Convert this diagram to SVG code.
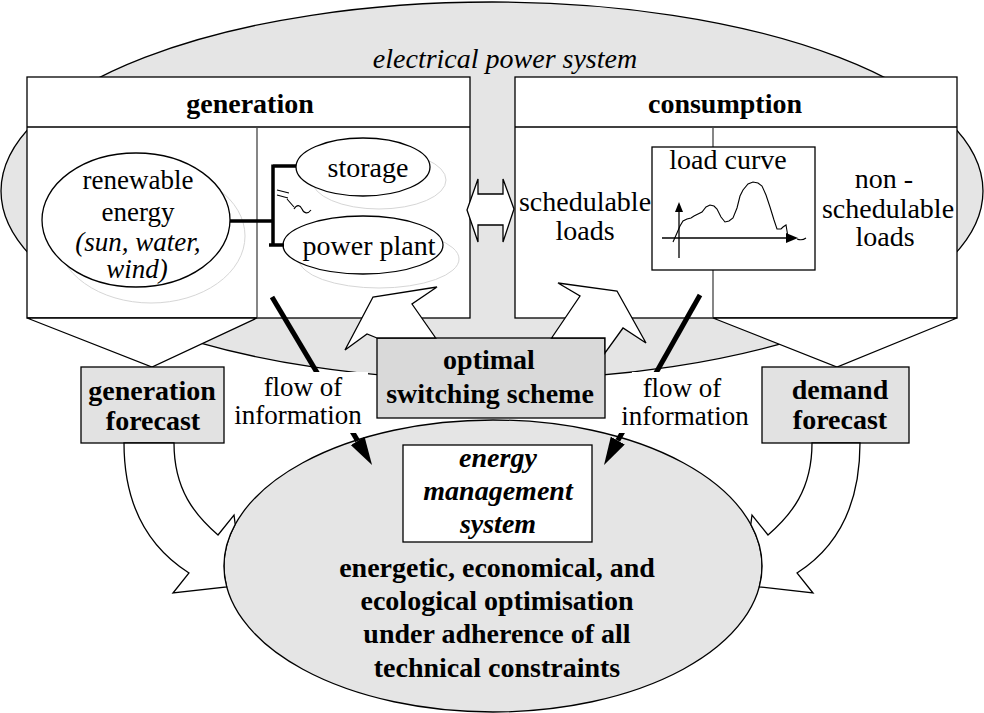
<svg xmlns="http://www.w3.org/2000/svg" width="984" height="713" viewBox="0 0 984 713" font-family="'Liberation Serif', Tinos, 'DejaVu Serif', serif">
<defs>
<style>
text{font-family:'Liberation Serif', Tinos, 'Times New Roman', 'DejaVu Serif', serif}
.t{font-size:28px;fill:#000;text-anchor:middle}
.s{font-size:27px}
.b{font-weight:bold}
.i{font-style:italic}
.ln{fill:none;stroke:#000;stroke-width:1.3}
.dv{fill:none;stroke:#444;stroke-width:1.3}
.wb{fill:#fff;stroke:#000;stroke-width:1.3}
.gb{fill:#e2e2e2;stroke:#000;stroke-width:1.3}
.sh{fill:none;stroke:#d6d6d6;stroke-width:1}
.thick{fill:none;stroke:#000;stroke-width:5}
.br{fill:none;stroke:#000;stroke-width:3.5}
.sym{fill:none;stroke:#000;stroke-width:1.1}
.bg{fill:#fff;stroke:none}
</style>
<marker id="ah" viewBox="0 -8 28 16" refX="0" refY="0" markerWidth="28" markerHeight="16" markerUnits="userSpaceOnUse" orient="auto"><path d="M0,-8 L28,0 L0,8 Z" fill="#000"/></marker>
</defs>

<g id="power-system">
<ellipse cx="492" cy="191" rx="491" ry="189" fill="#e5e5e5" stroke="#000" stroke-width="1.3"/>
<text class="t i" x="505" y="68">electrical power system</text>
</g>

<g id="generation">
<rect x="27" y="77" width="443" height="241" class="wb"/>
<line x1="27" y1="127" x2="470" y2="127" class="ln"/>
<line x1="257" y1="127" x2="257" y2="318" class="dv"/>
<polygon points="27,318 257,318 152,367" class="wb"/>
<text class="t b" x="250" y="113">generation</text>
<ellipse cx="151" cy="236" rx="94" ry="67" class="sh"/>
<ellipse cx="379" cy="180" rx="67" ry="29" class="sh"/>
<ellipse cx="379" cy="259" rx="80" ry="29" class="sh"/>
<g id="renewable-energy">
<ellipse cx="136" cy="220" rx="94" ry="67" class="wb"/>
<text class="t s" x="138" y="189">renewable</text>
<text class="t s" x="138" y="221">energy</text>
<text class="t s i" x="138" y="251">(sun, water,</text>
<text class="t s i" x="137" y="278">wind)</text>
</g>
<g id="storage">
<ellipse cx="363" cy="167" rx="67" ry="29" class="wb"/>
<text class="t" x="368" y="177">storage</text>
</g>
<g id="power-plant">
<ellipse cx="363" cy="245" rx="80" ry="29" class="wb"/>
<text class="t" x="369" y="255">power plant</text>
</g>
<path d="M230,221 H273 M273,164.5 V246.5 M273,166 H296 M269,245 H284" class="br"/>
<path d="M277,190 L289,193 M277,195 L288,198 M287,199 L294,207 M294,209 C297,204 300,205 302,209 C304,214 308,214 311,210" class="sym"/>
</g>

<g id="consumption">
<rect x="515" y="77" width="442" height="241" class="wb"/>
<line x1="515" y1="127" x2="957" y2="127" class="ln"/>
<line x1="713" y1="127" x2="713" y2="147" class="dv"/>
<line x1="713" y1="270" x2="713" y2="318" class="dv"/>
<polygon points="713,318 957,318 837,367" class="wb"/>
<text class="t b" x="725" y="113">consumption</text>
<text class="t" x="585" y="211">schedulable</text>
<text class="t" x="585" y="240">loads</text>
<text class="t" x="884" y="188">non -</text>
<text class="t" x="888" y="218">schedulable</text>
<text class="t" x="885" y="246">loads</text>
<g id="load-curve">
<rect x="652" y="147" width="163" height="123" class="wb"/>
<text class="t" x="728" y="169">load curve</text>
<line x1="679" y1="258" x2="679" y2="210" class="ln"/>
<polygon points="679,202 675,212 683,212" fill="#000"/>
<line x1="662" y1="238" x2="787" y2="238" class="ln"/>
<polygon points="798,238 786,233 786,243" fill="#000"/>
<path d="M797,239 q5,2 9,-1" class="sym"/>
<path d="M673,242 L677,233 L680,226 L683,221 L687,219 L691,218 L694,216 L698,214 L702,212 L706,207 L710,205 L714,206 L717,209 L721,217 L725,222 L729,221 L733,218 L737,208 L740,196 L743,190 L748,184 L753,182 L758,183 L762,186 L766,195 L770,207 L774,220 L777,229 L781,229 L783,227 L786,225 L787,231 L788,237" class="sym"/>
</g>
</g>

<g id="generation-forecast">
<rect x="81" y="367" width="143" height="76" class="gb"/>
<text class="t b" x="152" y="400">generation</text>
<text class="t b" x="153" y="430">forecast</text>
</g>

<g id="demand-forecast">
<rect x="762" y="367" width="147" height="76" class="gb"/>
<text class="t b" x="840" y="399">demand</text>
<text class="t b" x="840" y="429">forecast</text>
</g>

<g id="energy-management-system">
<ellipse cx="493" cy="566" rx="269" ry="146" fill="#e5e5e5" stroke="#000" stroke-width="1.3"/>
<rect x="403" y="445" width="189" height="97" class="wb"/>
<text class="t b i" x="498" y="467">energy</text>
<text class="t b i" x="498" y="500">management</text>
<text class="t b i" x="498" y="533">system</text>
<text class="t b" x="497" y="577">energetic, economical, and</text>
<text class="t b" x="497" y="610">ecological optimisation</text>
<text class="t b" x="497" y="643">under adherence of all</text>
<text class="t b" x="497" y="677">technical constraints</text>
</g>

<g id="optimal-switching-scheme">
<rect x="377" y="338" width="228" height="80" fill="#d9d9d9" stroke="#000" stroke-width="1.3"/>
<text class="t b" x="489" y="369">optimal</text>
<text class="t b" x="490" y="403">switching scheme</text>
</g>

<g id="connectors">
<polygon points="467,210 478,179 478,194 503,194 503,179 514,209 503,242 503,225 478,225 478,242" class="wb"/>
<polygon points="377,338 367,334 345,350 373,297 437,287 412,304 435.7,338" class="wb"/>
<polygon points="551.6,338 580,296 558,283 617,291 646,343 623,328 605,353 605,338" class="wb"/>
<path d="M124,443 C124,500 145,545 189,573 L173,593 L226.7,586.9 A269,146 0 0 1 235.2,524.4 L234,515 L218,535 C195,515 174,490 174,443 Z" class="wb"/>
<path d="M860,443 C860,500 841,545 797,573 L813,593 L759.3,586.9 A269,146 0 0 0 750.8,524.4 L752,515 L768,535 C791,515 812,490 812,443 Z" class="wb"/>
<line x1="272" y1="297" x2="357.7" y2="440.9" class="thick" marker-end="url(#ah)"/>
<line x1="700" y1="295" x2="617.8" y2="440.6" class="thick" marker-end="url(#ah)"/>
<rect x="228" y="372" width="140" height="61" class="bg"/>
<rect x="632" y="372" width="122" height="30" class="bg"/>
<rect x="614" y="400" width="141" height="33" class="bg"/>
<text class="t s" x="303" y="396">flow of</text>
<text class="t s" x="298" y="424">information</text>
<text class="t s" x="682" y="397">flow of</text>
<text class="t s" x="685" y="425">information</text>
</g>
</svg>
